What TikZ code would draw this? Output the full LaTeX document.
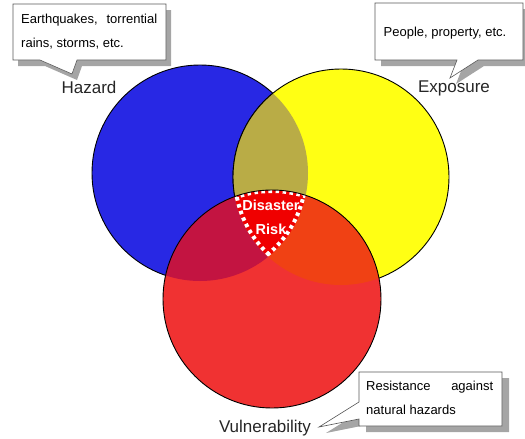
\documentclass[tikz,border=0pt]{standalone}
\usepackage{fontspec}
\setmainfont{Liberation Sans}
\definecolor{cB}{RGB}{40,40,228}
\definecolor{cY}{RGB}{255,255,20}
\definecolor{cR}{RGB}{240,50,50}
\definecolor{cBY}{RGB}{185,172,70}
\definecolor{cBR}{RGB}{195,20,65}
\definecolor{cYR}{RGB}{240,65,20}
\definecolor{cC}{RGB}{240,0,0}
\definecolor{shade}{RGB}{165,165,165}
\tikzset{
  outl/.style={draw=black, line width=0.9pt},
  callbox/.style={fill=white, draw=black!65, line width=0.6pt, line join=miter},
  shadowbox/.style={fill=shade},
  biglabel/.style={font=\fontsize{17}{20}\selectfont, text=black!85, inner sep=0pt},
  calltext/.style={font=\fontsize{13}{24.5}\selectfont, text=black, inner sep=0pt},
  dots/.style={draw=white, line width=8pt, dash pattern=on 3.6pt off 3.6pt}
}
\begin{document}
\begin{tikzpicture}[x=1pt,y=-1pt]
\useasboundingbox (0,0) rectangle (525,439);
\coordinate (B) at (200,173);
\coordinate (Y) at (341,177);
\coordinate (R) at (272,299);
% blue and yellow
\fill[cB] (B) circle[radius=108pt];
\draw[outl] (B) circle[radius=108pt];
\fill[cY] (Y) circle[radius=108pt];
\draw[outl] (Y) circle[radius=108pt];
\begin{scope}
  \clip (B) circle[radius=108pt];
  \fill[cBY] (Y) circle[radius=108pt];
  \draw[outl] (Y) circle[radius=108pt];
\end{scope}
% red
\fill[cR] (R) circle[radius=109pt];
\begin{scope}
  \clip (R) circle[radius=109pt];
  \fill[cBR] (B) circle[radius=108pt];
  \fill[cYR] (Y) circle[radius=108pt];
  \clip (B) circle[radius=108pt];
  \fill[cC] (Y) circle[radius=108pt];
\end{scope}
% dotted border of the common region
\begin{scope}
  \clip (R) circle[radius=109pt];
  \clip (B) circle[radius=108pt];
  \clip (Y) circle[radius=108pt];
  \draw[dots] (R) circle[radius=110pt];
  \draw[dots] (B) circle[radius=108pt];
  \draw[dots] (Y) circle[radius=108pt];
\end{scope}
\draw[outl] (R) circle[radius=109pt];
\node[font=\fontsize{14.5}{17}\bfseries, text=white, inner sep=0pt] (dis) at (271,205) {Disaster};
\node[font=\fontsize{14.5}{17}\bfseries, text=white, inner sep=0pt] (risk) at (271,229) {Risk};
% labels
\node[biglabel] (haz) at (89,87) {Hazard};
\node[biglabel] (exp) at (454,88) {Exposure};
\node[biglabel] (vul) at (265,428) {Vulnerability};
% callout 1
\path[shadowbox, shift={(5,6)}] (13,4) -- (166,4) -- (166,60) -- (77,60) -- (72,74) -- (40,60) -- (13,60) -- cycle;
\path[callbox] (13,4) -- (166,4) -- (166,60) -- (77,60) -- (72,74) -- (40,60) -- (13,60) -- cycle;
\node[calltext, anchor=north west, text width=136pt, align=justify] (t1) at (21,13.5) {Earthquakes, torrential\linebreak rains, storms, etc.};
% callout 2
\path[shadowbox, shift={(6,6)}] (375,3) -- (523,3) -- (523,60) -- (478,60) -- (450,78) -- (457,60) -- (375,60) -- cycle;
\path[callbox] (375,3) -- (523,3) -- (523,60) -- (478,60) -- (450,78) -- (457,60) -- (375,60) -- cycle;
\node[calltext] (t2) at (445,33) {People, property, etc.};
% callout 3
\path[shadowbox, shift={(7,6)}] (359,372) -- (502,372) -- (502,426) -- (359,426) -- (359,419) -- (319,427) -- (359,402) -- cycle;
\path[callbox] (359,372) -- (502,372) -- (502,426) -- (359,426) -- (359,419) -- (319,427) -- (359,402) -- cycle;
\node[calltext, anchor=north west, text width=127pt, align=justify] (t3) at (366,380.5) {Resistance against\linebreak natural hazards};
\end{tikzpicture}
\end{document}
